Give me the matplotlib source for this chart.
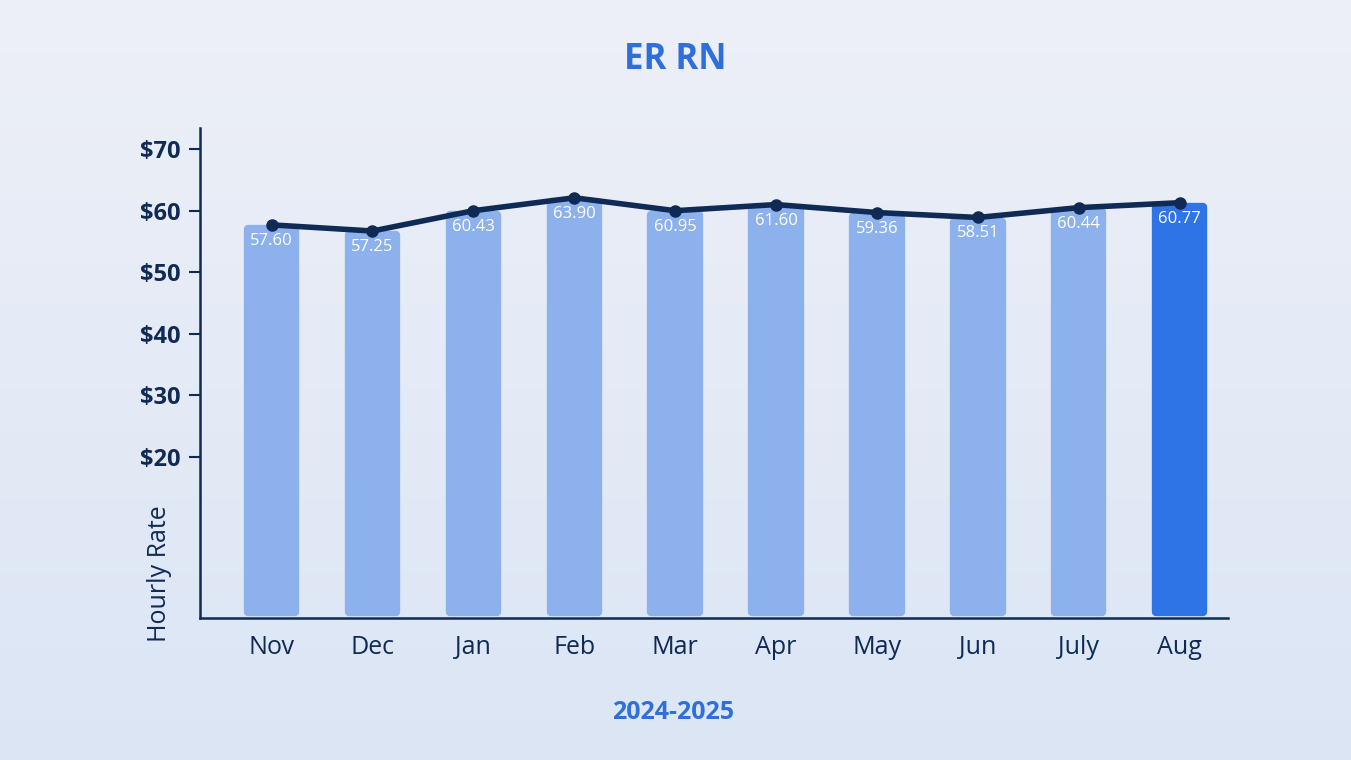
import matplotlib.pyplot as plt
import numpy as np

months = ["Nov", "Dec", "Jan", "Feb", "Mar", "Apr", "May", "Jun", "July", "Aug"]
bar_values = [57.60, 57.25, 60.43, 63.90, 60.95, 61.60, 59.36, 58.51, 60.44, 60.77]
line_values = [57.7, 56.7, 60.0, 62.1, 60.0, 61.0, 59.7, 58.9, 60.5, 61.3]
y_ticks = [20, 30, 40, 50, 60, 70]
y_tick_labels = ["$20", "$30", "$40", "$50", "$60", "$70"]

navy = "#0f2a55"
blue = "#2f6fdc"

fig = plt.figure(figsize=(13.51, 7.6), dpi=100)
# soft photo-like background
bg = fig.add_axes([0, 0, 1, 1])
grad = np.linspace(0, 1, 256)
img = np.zeros((256, 256, 3))
top = np.array([0.93, 0.94, 0.97])
bottom = np.array([0.86, 0.90, 0.96])
for i, t in enumerate(grad):
    img[i, :, :] = top * (1 - t) + bottom * t
bg.imshow(img, aspect="auto", extent=[0, 1, 0, 1])
bg.axis("off")

ax = fig.add_axes([0.148, 0.187, 0.761, 0.645])
ax.patch.set_alpha(0)
x = np.arange(len(months))
y_min, y_max = -6.2, 73.5
bar_base = -5.3
colors = ["#8cb1ec"] * (len(months) - 1) + ["#2f74e6"]
# bars reach up to the line points; rounded look via thick round-joined edge
heights = np.array(line_values) - 0.7 - bar_base
ax.bar(x, heights, bottom=bar_base, width=0.47, color=colors,
       edgecolor=colors, linewidth=6, joinstyle="round", zorder=2)
for xi, top_v, v in zip(x, line_values, bar_values):
    ax.text(xi, top_v - 2.6, f"{v:.2f}", color="white", ha="center", va="center",
            fontsize=12, family="Open Sans", zorder=4)
ax.plot(x, line_values, color=navy, linewidth=4, marker="o", markersize=8, zorder=3)

ax.set_ylim(y_min, y_max)
ax.set_xlim(-0.71, len(months) - 0.52)
ax.set_yticks(y_ticks)
ax.set_yticklabels(y_tick_labels, fontsize=17, fontweight="bold", color=navy, family="Open Sans")
ax.set_xticks(x)
ax.set_xticklabels(months, fontsize=18, color=navy, family="Open Sans")
ax.tick_params(axis="y", length=8, width=1.5, color=navy, pad=6)
ax.tick_params(axis="x", length=0, pad=12)
for side in ["top", "right"]:
    ax.spines[side].set_visible(False)
for side in ["left", "bottom"]:
    ax.spines[side].set_color(navy)
    ax.spines[side].set_linewidth(1.8)

fig.text(0.5, 0.921, "ER RN", ha="center", va="center", fontsize=25,
         fontweight="bold", color=blue, family="Open Sans")
fig.text(0.498, 0.063, "2024-2025", ha="center", va="center", fontsize=18,
         fontweight="bold", color=blue, family="Open Sans")
fig.text(0.118, 0.245, "Hourly Rate", ha="center", va="center", rotation=90,
         fontsize=18, color=navy, family="Open Sans")

fig.savefig("out.png", dpi=100)
